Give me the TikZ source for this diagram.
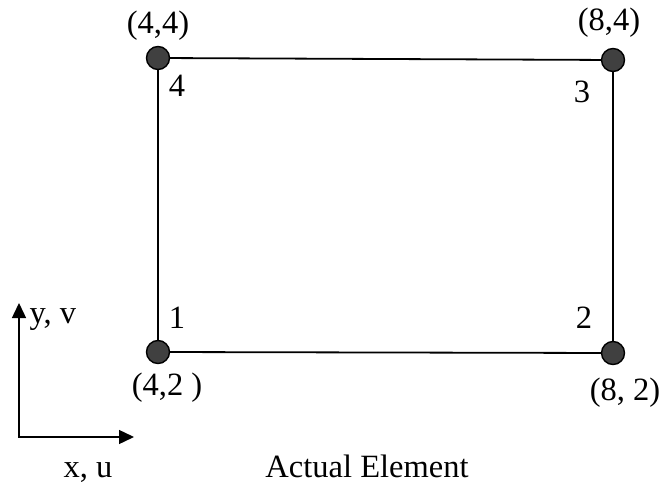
\documentclass[tikz,border=0pt]{standalone}
\usepackage{fontspec}
\setmainfont{Liberation Serif}
\usetikzlibrary{arrows.meta, positioning}

\begin{document}
\begin{tikzpicture}[
    x=1pt, y=1pt,
    every node/.style={font=\fontsize{32.5}{39}\selectfont},
    corner/.style={circle, draw, line width=1.4pt, fill=black!75, minimum size=23pt, inner sep=0pt, outer sep=0pt},
    edge/.style={line width=1.8pt},
    axis/.style={line width=1.4pt, {Triangle[length=15pt, width=14pt]}-{Triangle[length=15pt, width=14pt]}},
  ]
  \useasboundingbox (0,0) rectangle (660,485);
  % element corners
  \node[corner] (n1) at (158,133) {};
  \node[corner] (n2) at (613,132) {};
  \node[corner] (n3) at (613,425) {};
  \node[corner] (n4) at (158,427) {};
  \draw[edge] (n1) -- (n2) -- (n3) -- (n4) -- (n1);
  % coordinates of the corners
  \node[above=3pt of n4] {(4,4)};
  \node[above=8pt of n3, xshift=-4pt] {(8,4)};
  \node[below=6pt of n1, xshift=9pt] {(4,2 )};
  \node[below=10pt of n2, xshift=12pt] {(8, 2)};
  % node numbers
  \node at ([xshift=19pt, yshift=34pt]n1) {1};
  \node at ([xshift=-29pt, yshift=35pt]n2) {2};
  \node at ([xshift=-31pt, yshift=-32pt]n3) {3};
  \node at ([xshift=19pt, yshift=-28pt]n4) {4};
  % axes
  \coordinate (o) at (19,48);
  \coordinate (ytip) at (19,182);
  \coordinate (xtip) at (134,48);
  \draw[axis] (ytip) -- (o) -- (xtip);
  \node[anchor=base west] (ylab) at (26,162) {y, v};
  \node[anchor=base] (xlab) at (88,8) {x, u};
  \node[anchor=base] (title) at (367,8) {Actual Element};
\end{tikzpicture}
\end{document}
